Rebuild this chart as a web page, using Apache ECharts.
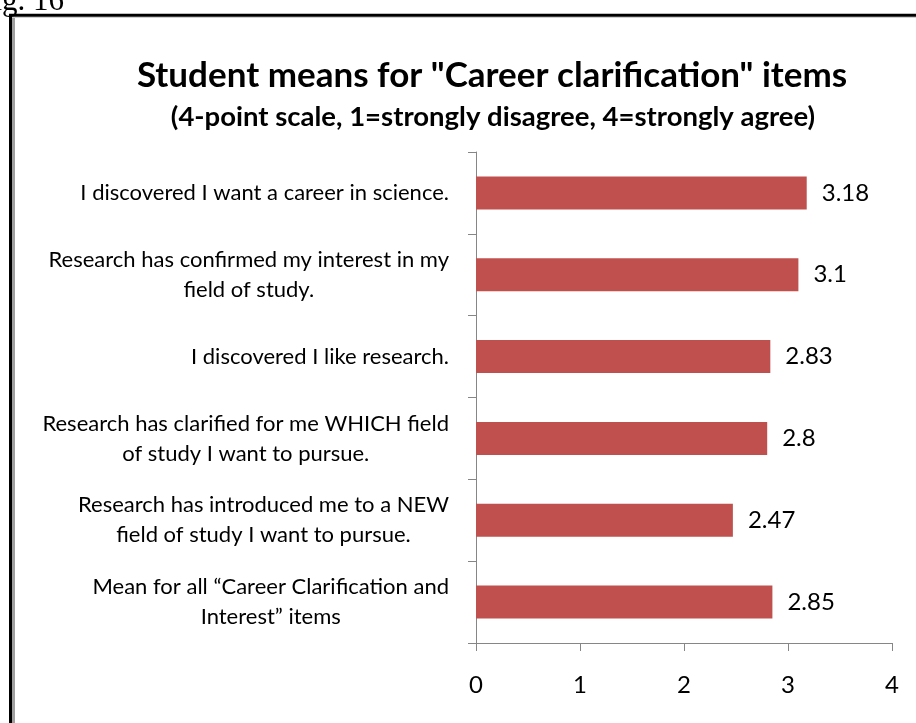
<!DOCTYPE html>
<html>
<head>
<meta charset="utf-8">
<script src="https://cdn.jsdelivr.net/npm/echarts@6/dist/echarts.min.js"></script>
<style>
  html, body { margin: 0; padding: 0; background: #fff; }
  #chart { width: 916px; height: 723px; }
</style>
</head>
<body>
<div id="chart"></div>
<script>
// Survey items (top to bottom) and their mean scores
const categories = [
  'I discovered I want a career in science.',
  'Research has confirmed my interest in my\nfield of study.',
  'I discovered I like research.',
  'Research has clarified for me WHICH field\nof study I want to pursue.',
  'Research has introduced me to a NEW\nfield of study I want to pursue.',
  'Mean for all \u201CCareer Clarification and\nInterest\u201D items'
];
const means = [3.18, 3.1, 2.83, 2.8, 2.47, 2.85];
const xTicks = [0, 1, 2, 3, 4];

const chart = echarts.init(document.getElementById('chart'));
const font = 'Lato, "Open Sans", sans-serif';

chart.setOption({
  animation: false,
  backgroundColor: '#fff',
  title: [{
    text: 'Student means for "Career clarification" items',
    left: 487, top: 53, textAlign: 'center',
    textStyle: { fontFamily: font, fontWeight: 'bold', fontSize: 35, color: '#000' }
  }, {
    text: '(4-point scale, 1=strongly disagree, 4=strongly agree)',
    left: 488, top: 98, textAlign: 'center',
    textStyle: { fontFamily: font, fontWeight: 'bold', fontSize: 27.5, color: '#000' }
  }],
  graphic: [
    { type: 'text', z: 1,
      style: { x: 64, y: 17, text: 'Fig. 16', align: 'right', verticalAlign: 'bottom',
               fontFamily: '"Liberation Serif", serif', fontSize: 31, fill: '#000' } },
    { type: 'line', z: 2, shape: { x1: 9, y1: 15.3, x2: 916, y2: 15.3 }, style: { stroke: '#000', lineWidth: 3 } },
    { type: 'line', z: 2, shape: { x1: 10.5, y1: 14, x2: 10.5, y2: 723 }, style: { stroke: '#000', lineWidth: 3 } },
    { type: 'line', z: 2, shape: { x1: 13.5, y1: 17, x2: 13.5, y2: 723 }, style: { stroke: '#a0a0a0', lineWidth: 3 } },
    { type: 'line', z: 2, shape: { x1: 12, y1: 17.5, x2: 916, y2: 17.5 }, style: { stroke: '#d0d0d0', lineWidth: 1 } }
  ],
  grid: { left: 476, right: 24, top: 152, bottom: 80 },
  xAxis: {
    type: 'value', min: xTicks[0], max: xTicks[xTicks.length - 1], interval: 1,
    splitLine: { show: false },
    axisLine: { show: true, lineStyle: { color: '#868686', width: 1 } },
    axisTick: { show: true, length: 8, lineStyle: { color: '#868686' } },
    axisLabel: { margin: 30, fontFamily: font, fontSize: 24, color: '#000' }
  },
  yAxis: {
    type: 'category', data: categories, inverse: true,
    axisLine: { show: true, lineStyle: { color: '#868686', width: 1 } },
    axisTick: { show: true, length: 8, lineStyle: { color: '#868686' } },
    axisLabel: {
      margin: 27, align: 'right',
      // each line centred within the right-aligned label block
      formatter: v => v.split('\n').map(l => '{c|' + l + '}').join('\n'),
      rich: { c: { align: 'center', fontFamily: font, fontSize: 22, color: '#000', lineHeight: 30 } }
    }
  },
  series: [{
    type: 'bar', data: means, barWidth: 33,
    itemStyle: { color: '#C0504D' },
    label: { show: true, position: 'right', distance: 15, fontFamily: font, fontSize: 24, color: '#000' }
  }]
});
</script>
</body>
</html>
